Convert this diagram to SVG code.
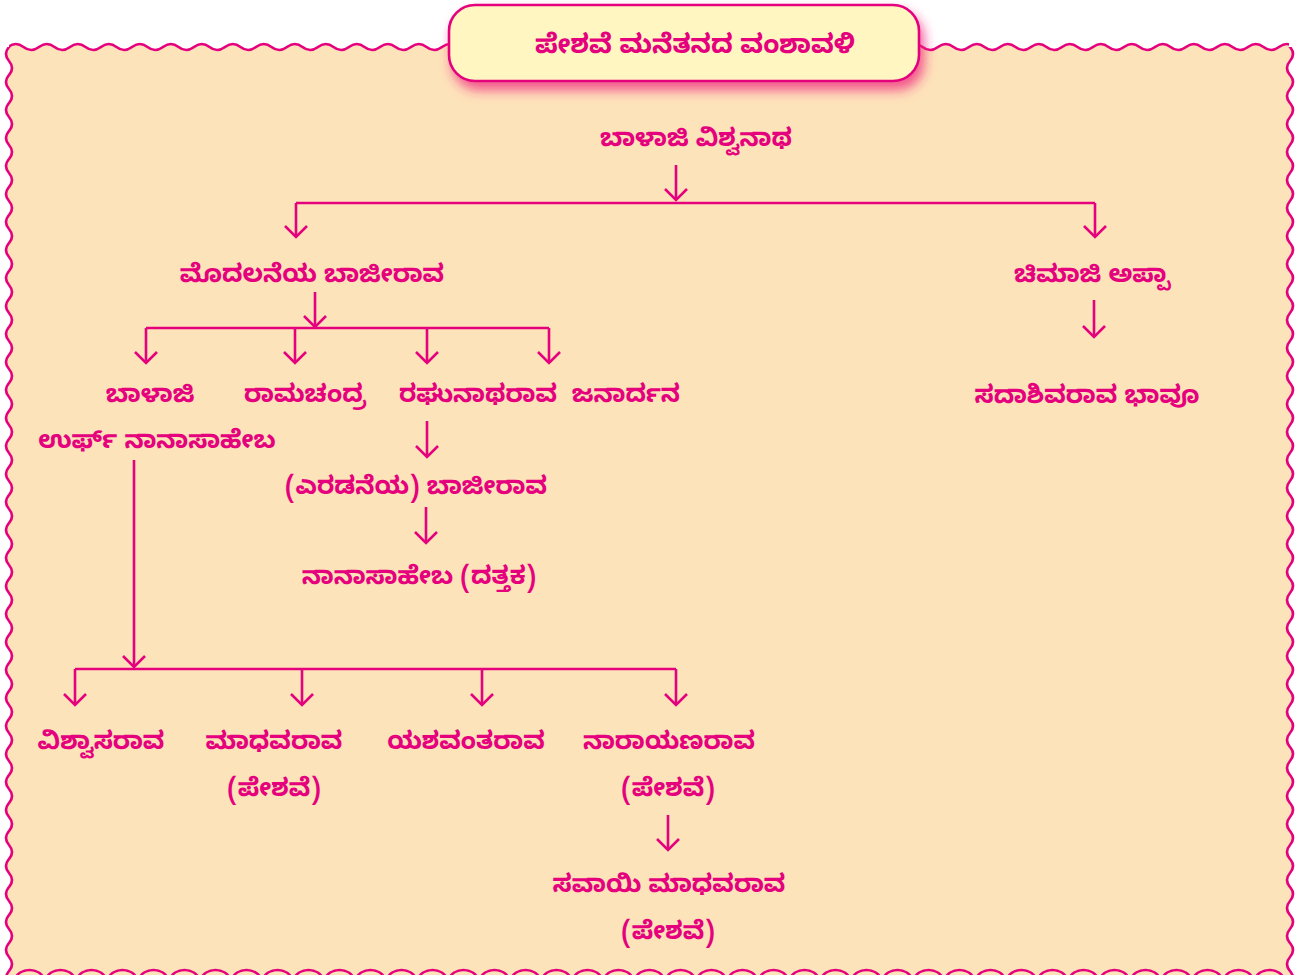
<svg xmlns="http://www.w3.org/2000/svg" width="1312" height="975" viewBox="0 0 1312 975">
<style>
.t{font-family:"Noto Sans Kannada","Noto Sans","Noto Sans CJK SC",sans-serif;font-weight:bold;font-size:25px;fill:#E5007D;text-anchor:middle}
.tt{font-size:26.5px}
.c{fill:none;stroke:#E5007D;stroke-width:2.6}
.a{marker-end:url(#ah)}
.w{fill:none;stroke:#E5007D;stroke-width:2.6}
.p{fill:#FDE3BA}
</style>
<defs>
<marker id="ah" markerUnits="userSpaceOnUse" viewBox="-14 -14 16 28" markerWidth="16" markerHeight="28" refX="0" refY="0" orient="auto" overflow="visible">
<path d="M-11,-11 L0,0 L-11,11" fill="none" stroke="#E5007D" stroke-width="2.6"/>
</marker>
<filter id="sh" x="-10%" y="-30%" width="120%" height="180%">
<feDropShadow dx="4" dy="8" stdDeviation="6" flood-color="#F0287F" flood-opacity="0.75"/>
</filter>
<pattern id="wt" patternUnits="userSpaceOnUse" x="8" y="40" width="31" height="14">
<path class="p" d="M0,7 Q7.75,1 15.5,7 T31,7 V14 H0 Z"/>
<path class="w" d="M-15.5,7 Q-7.75,13 0,7 Q7.75,1 15.5,7 T31,7 T46.5,7"/>
</pattern>
<pattern id="wl" patternUnits="userSpaceOnUse" x="1" y="47" width="14" height="28">
<path class="p" d="M8,0 Q2,7 8,14 T8,28 H14 V0 Z"/>
<path class="w" d="M8,-14 Q14,-7 8,0 Q2,7 8,14 T8,28 T8,42"/>
</pattern>
<pattern id="wr" patternUnits="userSpaceOnUse" x="1284" y="47" width="14" height="28">
<path class="p" d="M6,0 Q12,7 6,14 T6,28 H0 V0 Z"/>
<path class="w" d="M6,-14 Q0,-7 6,0 Q12,7 6,14 T6,28 T6,42"/>
</pattern>
</defs>
<g id="frame">
<rect x="12" y="50" width="1276" height="925" class="p"/>
<rect x="9" y="40" width="1280" height="14" fill="url(#wt)"/>
<rect x="1" y="47" width="14" height="928" fill="url(#wl)"/>
<rect x="1284" y="47" width="14" height="928" fill="url(#wr)"/>
<path id="scallops" fill="none" stroke="#E5007D" stroke-width="2.6" d="M14,980 a17,17 0 0 1 31,0 a17,17 0 0 1 31,0 a17,17 0 0 1 31,0 a17,17 0 0 1 31,0 a17,17 0 0 1 31,0 a17,17 0 0 1 31,0 a17,17 0 0 1 31,0 a17,17 0 0 1 31,0 a17,17 0 0 1 31,0 a17,17 0 0 1 31,0 a17,17 0 0 1 31,0 a17,17 0 0 1 31,0 a17,17 0 0 1 31,0 a17,17 0 0 1 31,0 a17,17 0 0 1 31,0 a17,17 0 0 1 31,0 a17,17 0 0 1 31,0 a17,17 0 0 1 31,0 a17,17 0 0 1 31,0 a17,17 0 0 1 31,0 a17,17 0 0 1 31,0 a17,17 0 0 1 31,0 a17,17 0 0 1 31,0 a17,17 0 0 1 31,0 a17,17 0 0 1 31,0 a17,17 0 0 1 31,0 a17,17 0 0 1 31,0 a17,17 0 0 1 31,0 a17,17 0 0 1 31,0 a17,17 0 0 1 31,0 a17,17 0 0 1 31,0 a17,17 0 0 1 31,0 a17,17 0 0 1 31,0 a17,17 0 0 1 31,0 a17,17 0 0 1 31,0 a17,17 0 0 1 31,0 a17,17 0 0 1 31,0 a17,17 0 0 1 31,0 a17,17 0 0 1 31,0 a17,17 0 0 1 31,0 a17,17 0 0 1 31,0"/>
</g>
<g id="title">
<rect x="449" y="5" width="470" height="76" rx="26" fill="#FFF6C2" stroke="#E5007D" stroke-width="2.6" filter="url(#sh)"/>
<text class="t tt" x="695" y="53">ಪೇಶವೆ ಮನೆತನದ ವಂಶಾವಳಿ</text>
</g>
<g id="connectors">
<path class="c a" d="M676,165 V200"/>
<path class="c" d="M296,203 H1095"/>
<path class="c a" d="M296,203 V237"/>
<path class="c a" d="M1095,203 V237"/>
<path class="c a" d="M1094,300 V337"/>
<path class="c a" d="M315,292 V327"/>
<path class="c" d="M146,328 H549"/>
<path class="c a" d="M146,328 V363"/>
<path class="c a" d="M295,328 V363"/>
<path class="c a" d="M427,328 V363"/>
<path class="c a" d="M549,328 V363"/>
<path class="c a" d="M427,421 V457"/>
<path class="c a" d="M426,507 V543"/>
<path class="c a" d="M134,460 V667"/>
<path class="c" d="M75,669 H676"/>
<path class="c a" d="M75,669 V705"/>
<path class="c a" d="M302,669 V705"/>
<path class="c a" d="M482,669 V705"/>
<path class="c a" d="M676,669 V705"/>
<path class="c a" d="M668,815 V850"/>
</g>
<g id="n-balaji-vishwanath"><text class="t" x="696" y="146">ಬಾಳಾಜಿ ವಿಶ್ವನಾಥ</text></g>
<g id="n-bajirao1"><text class="t" x="312" y="282">ಮೊದಲನೆಯ ಬಾಜೀರಾವ</text></g>
<g id="n-chimaji"><text class="t" x="1092" y="282">ಚಿಮಾಜಿ ಅಪ್ಪಾ</text></g>
<g id="n-sadashiv"><text class="t" x="1087" y="403">ಸದಾಶಿವರಾವ ಭಾವೂ</text></g>
<g id="n-nanasaheb"><text class="t" x="150" y="402">ಬಾಳಾಜಿ</text><text class="t" x="157" y="448">ಉರ್ಫ್ ನಾನಾಸಾಹೇಬ</text></g>
<g id="n-ramchandra"><text class="t" x="305" y="402">ರಾಮಚಂದ್ರ</text></g>
<g id="n-raghunath"><text class="t" x="478" y="402">ರಘುನಾಥರಾವ</text></g>
<g id="n-janardan"><text class="t" x="626" y="402">ಜನಾರ್ದನ</text></g>
<g id="n-bajirao2"><text class="t" x="416" y="494">(ಎರಡನೆಯ) ಬಾಜೀರಾವ</text></g>
<g id="n-nanasaheb-dattak"><text class="t" x="419" y="584">ನಾನಾಸಾಹೇಬ (ದತ್ತಕ)</text></g>
<g id="n-vishwasrao"><text class="t" x="101" y="749">ವಿಶ್ವಾಸರಾವ</text></g>
<g id="n-madhavrao"><text class="t" x="274" y="749">ಮಾಧವರಾವ</text><text class="t" x="274" y="796">(ಪೇಶವೆ)</text></g>
<g id="n-yashwantrao"><text class="t" x="466" y="749">ಯಶವಂತರಾವ</text></g>
<g id="n-narayanrao"><text class="t" x="669" y="749">ನಾರಾಯಣರಾವ</text><text class="t" x="668" y="796">(ಪೇಶವೆ)</text></g>
<g id="n-sawai-madhavrao"><text class="t" x="669" y="892">ಸವಾಯಿ ಮಾಧವರಾವ</text><text class="t" x="668" y="939">(ಪೇಶವೆ)</text></g>
</svg>
